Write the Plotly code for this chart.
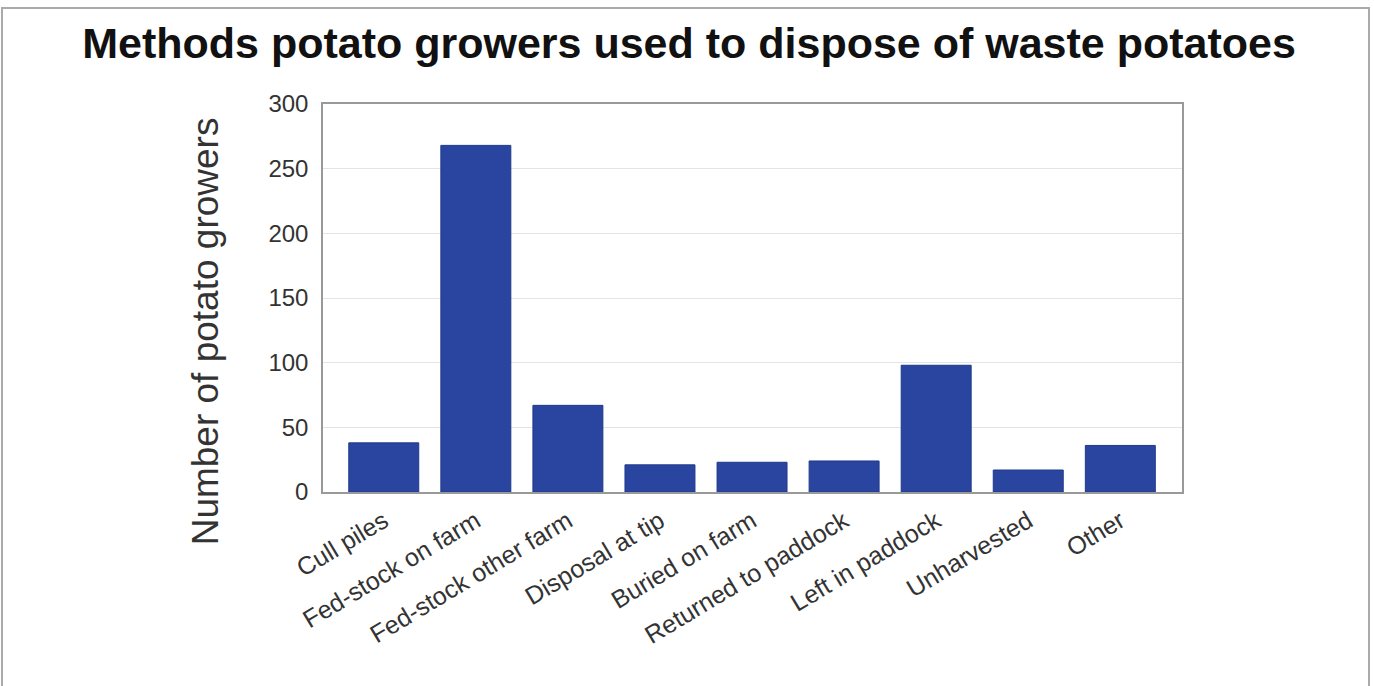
import plotly.graph_objects as go

# Survey results: disposal methods for waste potatoes
methods = [
    "Cull piles",
    "Fed-stock on farm",
    "Fed-stock other farm",
    "Disposal at tip",
    "Buried on farm",
    "Returned to paddock",
    "Left in paddock",
    "Unharvested",
    "Other",
]
growers = [38, 268, 67, 21, 23, 24, 98, 17, 36]
y_ticks = [0, 50, 100, 150, 200, 250, 300]

BAR_BLUE = "#2a459f"
TEXT = "#333333"
FONT = "Liberation Sans, Arial, Helvetica, sans-serif"

fig = go.Figure(
    go.Bar(
        x=methods,
        y=growers,
        width=0.76,
        marker=dict(color=BAR_BLUE, line=dict(color="#1f3a8a", width=1)),
        hoverinfo="x+y",
    )
)

fig.update_layout(
    width=1374,
    height=686,
    margin=dict(l=323, r=192, t=104, b=194),
    paper_bgcolor="white",
    plot_bgcolor="white",
    showlegend=False,
    font=dict(family=FONT, color=TEXT),
    title=dict(
        text="<b>Methods potato growers used to dispose of waste potatoes</b>",
        x=0.5015,
        xanchor="center",
        y=0.938,
        yanchor="middle",
        font=dict(family=FONT, size=43, color="#111111"),
    ),
    xaxis=dict(
        range=[-0.66, 8.67],
        tickangle=-31,
        tickfont=dict(size=25, color=TEXT),
        showline=True,
        linecolor="#999999",
        linewidth=1.5,
        mirror=True,
        showgrid=False,
        ticks="",
        ticklabelstandoff=3,
    ),
    yaxis=dict(
        range=[0, 300],
        tickvals=y_ticks,
        tickfont=dict(size=24, color=TEXT),
        showline=True,
        linecolor="#999999",
        linewidth=1.5,
        mirror=True,
        showgrid=True,
        gridcolor="#e4e4e4",
        gridwidth=1,
        zeroline=False,
        ticks="",
        ticklabelstandoff=8,
    ),
    annotations=[
        dict(
            text="Number of potato growers",
            xref="paper",
            yref="paper",
            x=-0.1374,
            y=0.414,
            xanchor="center",
            yanchor="middle",
            textangle=-90,
            showarrow=False,
            font=dict(family=FONT, size=37, color=TEXT),
        )
    ],
    shapes=[
        # outer frame around the whole figure
        dict(
            type="rect",
            xref="paper",
            yref="paper",
            x0=(2 - 323) / 859,
            x1=(1369 - 323) / 859,
            y0=(492 - 700) / 388,
            y1=(492 - 8) / 388,
            line=dict(color="#aaaaaa", width=2),
            layer="below",
        )
    ],
)

fig.write_html("out.html")
